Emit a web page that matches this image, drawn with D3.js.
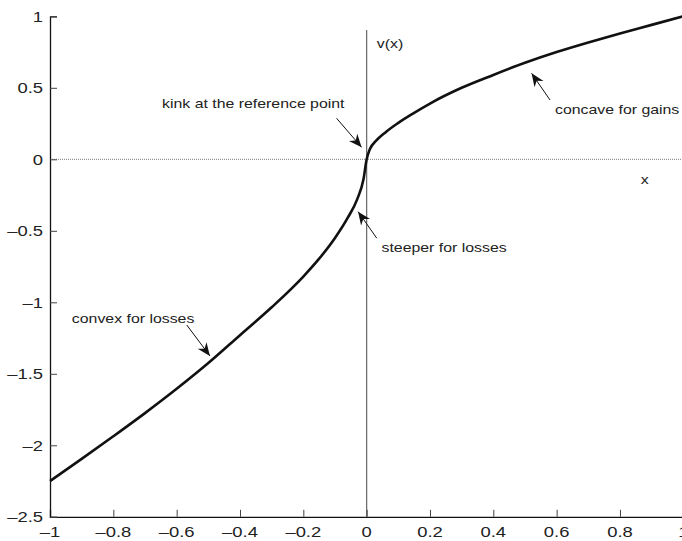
<!DOCTYPE html>
<html>
<head>
<meta charset="utf-8">
<script src="https://cdn.jsdelivr.net/npm/d3@7"></script>
<style>
  body { margin: 0; background: white; }
  text { font-family: "Liberation Sans", Arial, sans-serif; fill: #222; }
</style>
</head>
<body>
<div id="chart"></div>
<script>
// value function v(x)
const xValues = [-1, -0.9, -0.8, -0.7, -0.6, -0.5, -0.4, -0.3, -0.2, -0.15, -0.1, -0.06, -0.03, -0.01,
  0, 0.01, 0.03, 0.06, 0.1, 0.15, 0.2, 0.3, 0.4, 0.5, 0.6, 0.7, 0.8, 0.9, 1];
const vValues = [-2.25, -2.095, -1.937, -1.775, -1.605, -1.425, -1.23, -1.035, -0.82, -0.695, -0.55, -0.41, -0.28, -0.14,
  0, 0.07, 0.13, 0.19, 0.255, 0.325, 0.39, 0.5, 0.59, 0.675, 0.75, 0.817, 0.88, 0.94, 1];

const xTicks = [-1, -0.8, -0.6, -0.4, -0.2, 0, 0.2, 0.4, 0.6, 0.8, 1];
const yTicks = [-2.5, -2, -1.5, -1, -0.5, 0, 0.5, 1];

const notes = [
  { text: 'kink at the reference point', tx: -0.646, ty: 0.359, from: [-0.095, 0.287], to: [-0.016, 0.084] },
  { text: 'concave for gains', tx: 0.595, ty: 0.317, from: [0.579, 0.415], to: [0.521, 0.601] },
  { text: 'steeper for losses', tx: 0.047, ty: -0.648, from: [0.032, -0.552], to: [-0.027, -0.366] },
  { text: 'convex for losses', tx: -0.931, ty: -1.145, from: [-0.568, -1.159], to: [-0.495, -1.375] }
];

const W = 682, H = 541;
const margin = { left: 50, top: 16.3 };
const innerW = 633.3, innerH = 500.5;
const sx = 1.27; // glyphs in the reference are stretched sideways

const svg = d3.select('#chart').append('svg')
  .attr('width', W).attr('height', H);

const x = d3.scaleLinear().domain([-1, 1]).range([margin.left, margin.left + innerW]);
const y = d3.scaleLinear().domain([-2.5, 1]).range([margin.top + innerH, margin.top]);

const fmt = (d) => (d < 0 ? '\u2013' + Math.abs(d) : String(d));

function label(g, px, py, str, size, anchor) {
  return g.append('text')
    .attr('transform', `translate(${px},${py}) scale(${sx},1)`)
    .attr('text-anchor', anchor || 'start')
    .style('font-size', size + 'px')
    .text(str);
}

// zero lines
svg.append('line')
  .attr('x1', x(-1)).attr('x2', W)
  .attr('y1', y(0)).attr('y2', y(0))
  .attr('stroke', '#777').attr('stroke-width', 1)
  .attr('stroke-dasharray', '1,1');

svg.append('line')
  .attr('x1', x(0)).attr('x2', x(0))
  .attr('y1', y(0.904)).attr('y2', y(-2.5))
  .attr('stroke', '#666').attr('stroke-width', 1.2);

// axes
const xAxis = svg.append('g')
  .attr('transform', `translate(0,${y(-2.5)})`)
  .call(d3.axisBottom(x).tickValues(xTicks).tickSize(-7).tickFormat(''));
xAxis.select('.domain').attr('stroke', '#111').attr('stroke-width', 1.3);
xAxis.selectAll('.tick line').attr('stroke', '#444');

const yAxis = svg.append('g')
  .attr('transform', `translate(${x(-1)},0)`)
  .call(d3.axisLeft(y).tickValues(yTicks).tickSize(-7).tickFormat(''));
yAxis.select('.domain').attr('stroke', '#111').attr('stroke-width', 1.3);
yAxis.selectAll('.tick line').attr('stroke', '#444');

xTicks.forEach((t) => label(svg, x(t), y(-2.5) + 20.5, fmt(t), 14.5, 'middle'));
yTicks.forEach((t) => label(svg, x(-1) - 7, y(t) + 5.3, fmt(t), 14.5, 'end'));

// curve
const line = d3.line()
  .x((d, i) => x(xValues[i]))
  .y((d) => y(d))
  .curve(d3.curveMonotoneX);

svg.append('path')
  .datum(vValues)
  .attr('fill', 'none')
  .attr('stroke', '#111')
  .attr('stroke-width', 2.6)
  .attr('d', line);

// annotations
svg.append('defs').append('marker')
  .attr('id', 'head')
  .attr('viewBox', '-14 -6 16 12')
  .attr('refX', 0).attr('refY', 0)
  .attr('markerWidth', 16).attr('markerHeight', 12)
  .attr('markerUnits', 'userSpaceOnUse')
  .attr('orient', 'auto')
  .append('path')
  .attr('d', 'M0,0 L-13,-5.5 L-9,0 L-13,5.5 Z')
  .attr('fill', '#111');

notes.forEach((n) => {
  svg.append('line')
    .attr('x1', x(n.from[0])).attr('y1', y(n.from[1]))
    .attr('x2', x(n.to[0])).attr('y2', y(n.to[1]))
    .attr('stroke', '#111').attr('stroke-width', 1)
    .attr('marker-end', 'url(#head)');
  label(svg, x(n.tx), y(n.ty), n.text, 12.5);
});

label(svg, x(0.032), y(0.776), 'v(x)', 12.5);
label(svg, x(0.866), y(-0.173), 'x', 12.5);
</script>
</body>
</html>
